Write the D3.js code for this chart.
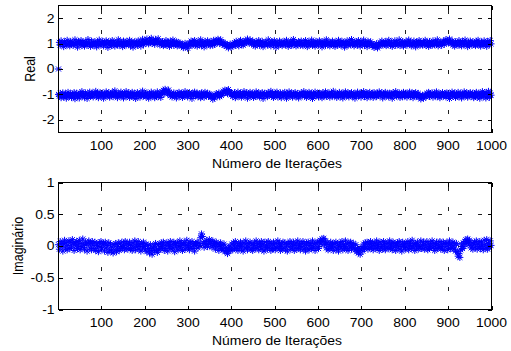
<!DOCTYPE html>
<html>
<head>
<meta charset="utf-8">
<script src="https://cdn.jsdelivr.net/npm/d3@7"></script>
<style>
  html, body { margin: 0; padding: 0; background: #fff; }
  svg { display: block; }
  text { font-family: Arial, "Liberation Sans", sans-serif; fill: #000; }
</style>
</head>
<body>
<script>
// ---------------- DATA ----------------
const iterations = d3.range(1, 1001, 2); // sampled iteration numbers (500 points)

const realUpper = [
  0, 1.05, .94, 1.11, .98, 1.02, .88, 1.07, 1.00, .95, 1.13, .97, 1.03, .91, 1.08, .99, 1.06, .93, 1.01, 1.15,
  .96, 1.04, .86, 1.09, 1.02, .97, 1.12, .92, 1.05, .99, .90, 1.07, 1.03, .95, 1.16, .98, 1.01, .89, 1.10, .96,
  1.04, .93, 1.08, 1.00, .87, 1.06, .97, 1.14, .94, 1.02, .99, 1.09, .91, 1.05, .96, 1.11, 1.01, .85, 1.07, .98,
  1.03, .92, 1.12, .97, 1.06, .90, 1.04, 1.00, .95, 1.15, .93, 1.08, .99, 1.02, .88, 1.10, .96, 1.05, .94, 1.09,
  1.01, .97, 1.13, .91, 1.06, .99, .86, 1.04, 1.08, .95, 1.02, .93, 1.11, .98, 1.07, .90, 1.03, 1.17, .96, 1.05,
  1.10, 1.03, 1.18, 1.07, .99, 1.14, 1.05, 1.21, 1.01, 1.12, 1.06, .97, 1.16, 1.09, 1.03, 1.19, 1.08, .95, 1.04, .99,
  1.08, .92, 1.03, .97, 1.12, .94, 1.06, 1.00, .89, 1.09, .96, 1.04, 1.14, .93, 1.01, .98, 1.07, .91, 1.05, .95,
  1.02, .97, .90, .96, .84, .93, 1.01, .88, .95, .82, .94, 1.03, .97, 1.10, .92, 1.06, .99, 1.12, .95, 1.01,
  .90, 1.07, 1.03, .96, 1.15, .93, 1.05, .99, .87, 1.09, 1.02, .95, 1.11, .98, 1.04, .92, 1.08, 1.00, .94, 1.13,
  .97, 1.03, 1.12, 1.05, 1.17, 1.08, 1.00, 1.15, 1.06, .98, 1.04, .93, 1.01, .96, .89, .95, .83, .92, .98, .87,
  .94, .90, .97, 1.04, .93, 1.09, .99, 1.02, .91, 1.07, 1.13, .96, 1.03, .94, 1.08, 1.00, 1.11, 1.05, 1.18, 1.07,
  1.02, 1.14, 1.06, .99, 1.10, .95, 1.04, .90, 1.07, .98, 1.01, 1.12, .93, 1.05, .97, 1.09, .88, 1.03, .96, 1.06,
  1.00, .94, 1.15, .97, 1.02, .91, 1.08, 1.04, .95, 1.11, .99, .86, 1.06, 1.01, .93, 1.10, .97, 1.03, .92, 1.07,
  .98, 1.05, .95, 1.13, 1.00, .89, 1.04, .96, 1.09, .93, 1.02, 1.16, .97, 1.06, .91, 1.01, .95, 1.08, 1.03, .94,
  1.10, .99, .92, 1.05, .97, 1.12, 1.01, .88, 1.07, .95, 1.03, .98, 1.14, .93, 1.06, 1.00, .90, 1.09, .96, 1.04,
  .94, 1.11, .99, 1.02, .87, 1.08, .97, 1.05, .93, 1.15, 1.01, .96, 1.07, .91, 1.03, .98, 1.10, .95, 1.04, .89,
  1.06, 1.00, .94, 1.13, .97, 1.03, .92, 1.09, .99, 1.05, .86, 1.02, .96, 1.11, .93, 1.07, 1.01, .95, 1.16, .98,
  1.03, .91, 1.08, .97, 1.04, .94, 1.12, 1.00, .90, 1.06, .96, 1.02, 1.14, .93, 1.05, .99, .88, 1.09, 1.01, .95,
  1.07, .98, .91, .96, .85, .94, .89, 1.00, .83, .93, .90, 1.04, .97, 1.10, .95, 1.02, .99, 1.08, .92, 1.05,
  .96, 1.13, 1.00, .94, 1.06, .89, 1.03, .98, 1.11, .93, 1.05, 1.01, .96, 1.15, .92, 1.04, .99, 1.08, .90, 1.02,
  .97, 1.09, .94, 1.03, 1.14, .98, 1.06, .91, 1.01, .95, 1.10, .99, .87, 1.05, 1.02, .96, 1.12, .93, 1.07, 1.00,
  .94, 1.04, .98, 1.13, .92, 1.06, 1.01, .89, 1.08, .96, 1.03, .93, 1.11, 1.00, .95, 1.07, .97, 1.15, .91, 1.04,
  .99, 1.06, .93, 1.02, 1.10, .97, 1.09, 1.16, 1.05, 1.12, 1.03, 1.18, 1.07, 1.00, 1.11, .95, 1.04, .90, 1.07, .98,
  1.03, .94, 1.12, .97, 1.05, .91, 1.08, 1.00, .95, 1.14, .99, 1.02, .88, 1.06, .96, 1.10, 1.01, .93, 1.07, .97,
  1.04, .92, 1.09, .98, 1.13, .95, 1.02, .90, 1.06, 1.00, .94, 1.11, .97, 1.05, .89, 1.08, 1.01, .96, 1.12, .99
];

const realLower = [
  -1.00, -1.07, -.96, -1.13, -1.02, -.94, -1.10, -1.04, -.98, -1.15, -1.01, -.92, -1.08, -1.05, -.97, -1.12, -.99, -1.06, -.93, -1.17,
  -1.03, -.95, -1.09, -1.00, -1.14, -.96, -1.04, -.89, -1.07, -.99, -1.11, -.94, -1.02, -1.16, -.97, -1.05, -.91, -1.08, -1.01, -.95,
  -1.10, -.98, -1.03, -.88, -1.06, -.96, -1.13, -1.00, -.93, -1.08, -1.02, -.95, -1.15, -.99, -1.04, -.90, -1.07, -1.01, -.94, -1.11,
  -.97, -1.05, -.92, -1.09, -1.00, -.86, -1.04, -.98, -1.13, -.95, -1.02, -1.07, -.91, -1.06, -.99, -1.14, -.96, -1.03, -.89, -1.08,
  -1.01, -.94, -1.12, -.98, -1.05, -.92, -1.09, -1.03, -.96, -1.16, -1.00, -.93, -1.07, -.99, -1.11, -.95, -1.04, -.87, -1.06, -1.02,
  -.97, -1.10, -.94, -1.03, -1.15, -.99, -1.06, -.91, -1.08, -1.01, -.96, -1.13, -.98, -1.04, -.90, -1.09, -1.02, -.95, -1.12, -1.00,
  -.90, -.84, -.95, -.80, -.91, -.87, -.98, -.83, -.93, -1.05, -.97, -1.10, -1.01, -.94, -1.07, -.99, -1.14, -.96, -1.03, -.92,
  -1.08, -1.00, -.95, -1.12, -.98, -1.05, -.89, -1.04, -.97, -1.10, -1.01, -.93, -1.07, -.99, -1.16, -.96, -1.02, -.91, -1.06, -1.00,
  -.95, -1.09, -1.03, -.97, -1.13, -.94, -1.05, -.99, -1.11, -.92, -1.04, -1.00, -.96, -1.08, -.98, -1.02, -1.10, -1.05, -1.19, -1.08,
  -1.14, -1.03, -.97, -1.07, -1.01, -.94, -1.09, -.98, -1.04, -.96, -.88, -.95, -.83, -.92, -.86, -.97, -.81, -.90, -.93, -1.02,
  -.96, -1.08, -1.00, -.93, -1.13, -.98, -1.05, -.91, -1.07, -1.02, -.95, -1.11, -.99, -1.04, -.89, -1.06, -1.01, -.94, -1.15, -.97,
  -1.03, -.92, -1.08, -1.00, -.96, -1.12, -.98, -1.05, -.90, -1.07, -1.02, -.94, -1.10, -.99, -1.04, -.93, -1.16, -1.01, -.95, -1.06,
  -.98, -1.09, -.93, -1.03, -1.00, -.88, -1.07, -.96, -1.12, -1.02, -.95, -1.05, -.91, -1.10, -.99, -1.04, -.94, -1.13, -1.01, -.97,
  -1.06, -.92, -1.03, -1.15, -.98, -1.04, -.90, -1.08, -1.00, -.95, -1.11, -.97, -1.02, -.93, -1.09, -1.05, -.96, -1.14, -.99, -1.03,
  -.94, -1.07, -1.01, -.89, -1.05, -.98, -1.12, -.96, -1.03, -.92, -1.08, -1.00, -.95, -1.16, -.99, -1.04, -.91, -1.06, -1.02, -.97,
  -1.10, -.95, -1.03, -.99, -1.13, -.93, -1.06, -1.01, -.90, -1.08, -.97, -1.04, -.94, -1.11, -1.00, -.96, -1.07, -.88, -1.05, -1.02,
  -.96, -1.12, -.99, -1.04, -.92, -1.09, -1.01, -.95, -1.14, -.98, -1.03, -.90, -1.07, -1.00, -.94, -1.10, -.97, -1.05, -.93, -1.08,
  -1.01, -.96, -1.15, -.99, -1.04, -.91, -1.06, -1.02, -.95, -1.11, -.98, -1.03, -.89, -1.08, -1.00, -.94, -1.13, -.97, -1.05, -.92,
  -1.07, -1.01, -.96, -1.12, -.93, -1.04, -.99, -1.09, -.95, -1.02, -.90, -1.06, -1.00, -.94, -1.14, -.98, -1.03, -.92, -1.08, -1.01,
  -.97, -1.10, -.95, -1.04, -.99, -1.15, -.93, -1.06, -1.01, -.89, -1.07, -.98, -1.03, -.94, -1.12, -1.00, -.96, -1.09, -.92, -1.05,
  -1.02, -.95, -1.11, -.99, -1.04, -.91, -1.08, -1.00, -.94, -1.13, -.97, -1.05, -.93, -1.07, -1.01, -.96, -1.12, -1.05, -1.18, -1.09,
  -1.03, -1.15, -1.07, -1.01, -1.10, -.96, -1.04, -.92, -1.08, -.99, -1.03, -.94, -1.11, -1.00, -.95, -1.06, -.90, -1.09, -1.02, -.97,
  -1.13, -.98, -1.04, -.93, -1.07, -1.01, -.96, -1.10, -.94, -1.05, -.99, -1.16, -.97, -1.03, -.91, -1.08, -1.00, -.95, -1.12, -.98,
  -1.04, -.92, -1.09, -1.01, -.96, -1.14, -.99, -1.05, -.90, -1.07, -1.02, -.94, -1.11, -.97, -1.03, -.93, -1.08, -1.00, -.95, -1.13,
  -.99, -1.06, -.92, -1.10, -1.02, -.96, -1.15, -.98, -1.04, -.89, -1.09, -1.01, -.93, -1.14, -.97, -1.07, -.88, -1.12, -.95, -1.03
];

const imagValues = [
  .02, -.05, .07, -.01, .04, -.08, .03, .09, -.03, .05, -.06, .01, .08, -.04, .06, -.02, .10, .03, -.07, .05,
  .00, .07, -.04, .03, .09, -.06, .04, -.02, .11, .01, -.05, .06, .02, -.08, .05, .08, -.03, .04, -.06, .07,
  .01, -.04, .06, -.07, .03, .00, -.09, .05, -.02, .07, -.05, .02, .04, -.08, .06, -.03, .01, -.10, .05, -.06,
  .03, -.08, -.02, -.11, .02, -.06, .04, -.09, -.01, .05, -.07, .03, -.04, .06, -.02, .01, -.06, .07, -.03, .04,
  -.05, .02, .06, -.04, .01, -.07, .05, -.02, .08, -.06, .03, -.01, .07, -.05, .02, -.08, .04, -.03, .06, -.01,
  -.06, .03, -.09, .01, -.04, -.11, .02, -.07, -.13, -.03, .00, -.08, .04, -.05, -.10, .02, -.06, .03, -.04, .05,
  -.02, .06, -.07, .01, -.04, .05, -.08, .03, -.01, .07, -.05, .02, -.03, .06, -.09, .04, -.02, .05, -.06, .01,
  .08, -.03, .04, -.07, .02, .06, -.05, .01, .09, -.02, .03, -.06, .05, -.01, .07, -.04, .02, -.08, .04, .00,
  .06, -.03, .05, .01, .13, .19, .15, .04, -.02, .07, .02, .09, -.01, .05, .10, .03, .07, -.02, .08, .01,
  .04, -.05, .06, -.01, .03, -.07, .02, .05, -.04, .01, -.06, .03, -.09, -.02, -.07, -.12, -.04, -.08, .00, -.05,
  .03, -.06, .05, -.02, .07, -.04, .01, -.07, .04, -.01, .06, -.05, .02, -.08, .05, -.03, .08, .00, -.06, .04,
  -.02, .06, -.05, .03, -.07, .01, .05, -.04, .08, -.02, .03, -.06, .04, -.01, .07, -.05, .02, -.08, .06, -.03,
  .01, -.05, .07, -.02, .04, -.07, .03, -.04, .06, .00, -.06, .05, -.03, .08, -.01, .04, -.07, .02, -.04, .06,
  -.03, .05, -.06, .02, -.08, .04, -.01, .07, -.05, .03, -.02, .06, -.07, .01, .05, -.04, .08, -.02, .03, -.06,
  .04, -.01, .07, -.05, .02, -.08, .05, -.03, .06, -.06, .01, .04, -.04, .08, -.02, .03, -.07, .05, -.01, .06,
  -.04, .06, .09, .03, .11, .07, .12, .02, .08, -.03, .05, -.06, .02, -.04, .06, -.01, .03, -.07, .04, -.02,
  .06, -.05, .03, -.08, .01, .05, -.03, .07, -.06, .02, -.01, .08, -.04, .03, -.07, .05, -.02, .06, -.05, .01,
  .04, -.03, -.06, .02, -.09, -.04, -.11, -.07, -.13, -.05, -.02, -.08, .03, -.04, .05, -.01, .06, -.05, .02, -.03,
  .07, -.02, .04, -.06, .01, .05, -.04, .08, -.01, .03, -.07, .06, -.03, .02, -.05, .07, .00, -.06, .04, -.02,
  .05, -.04, .08, -.01, .03, -.06, .06, -.02, .04, -.07, .01, .05, -.03, .07, -.05, .02, -.08, .06, -.01, .03,
  -.05, .04, -.02, .07, -.06, .01, .05, -.04, .09, -.01, .03, -.07, .04, -.02, .06, -.05, .02, -.03, .08, -.04,
  .01, .06, -.05, .03, -.02, .07, -.06, .02, -.04, .05, -.01, .08, -.03, .04, -.07, .01, .06, -.04, .03, -.02,
  .07, -.05, .02, -.03, .06, -.07, .04, -.01, .05, -.06, .02, .08, -.04, .03, -.02, .06, -.05, .01, -.08, .04,
  -.09, -.16, -.12, -.18, -.06, .02, -.04, .05, -.01, .07, .10, .04, .11, .06, .09, .01, -.03, .05, -.05, .03,
  .06, -.02, .08, -.05, .03, -.01, .07, -.04, .05, .00, -.06, .09, .02, -.03, .10, -.05, .04, -.02, .08, .01
];

const xTicks = [100, 200, 300, 400, 500, 600, 700, 800, 900, 1000];
const realTicks = [-2, -1, 0, 1, 2];
const imagTicks = [-1, -0.5, 0, 0.5, 1];
const xLabel = "Número de Iterações";
const realLabel = "Real";
const imagLabel = "Imaginário";

// ---------------- DRAW ----------------
const W = 511, H = 351;
const svg = d3.select("body").append("svg").attr("width", W).attr("height", H);
const SX = 1.16; // horizontal stretch of the text in the reference

const left = 58.5, right = 491.5;
const x = d3.scaleLinear().domain([1, 1000]).range([left, right]);

function starPath(r) {
  const d = r * 0.72;
  return `M${-r},0H${r}M0,${-r}V${r}M${-d},${-d}L${d},${d}M${-d},${d}L${d},${-d}`;
}

function panel(top, bottom, yDomain, yTicks, series, ylab, ylabX) {
  const y = d3.scaleLinear().domain(yDomain).range([bottom, top]);
  const g = svg.append("g");

  // grid
  const grid = g.append("g").attr("stroke", "#222").attr("stroke-width", 1)
    .attr("stroke-dasharray", "4,16").attr("shape-rendering", "crispEdges");
  xTicks.filter(t => t < 1000).forEach(t => {
    const px = Math.round(x(t)) + 0.5;
    grid.append("line").attr("x1", px).attr("x2", px).attr("y1", bottom).attr("y2", top)
      .attr("stroke-dashoffset", 1);
  });
  yTicks.filter(t => t > yDomain[0] && t < yDomain[1]).forEach(t => {
    const py = Math.round(y(t)) + 0.5;
    grid.append("line").attr("x1", left).attr("x2", right).attr("y1", py).attr("y2", py)
      .attr("stroke-dashoffset", 1);
  });

  // data markers
  series.forEach(vals => {
    const pts = vals.slice(0, iterations.length).map((v, i) => [iterations[i], v]);
    g.append("g").attr("stroke", "#0000ff").attr("stroke-width", 1).attr("fill", "none")
      .selectAll("path").data(pts).join("path")
      .attr("transform", p => `translate(${x(p[0])},${y(p[1])})`)
      .attr("d", starPath(3.5));
  });

  // box
  const ax = g.append("g").attr("stroke", "#000").attr("fill", "none").attr("shape-rendering", "crispEdges");
  ax.append("rect").attr("x", left).attr("y", top).attr("width", right - left).attr("height", bottom - top);
  // ticks (inward, all four sides)
  xTicks.forEach(t => {
    const px = Math.round(x(t)) + 0.5;
    ax.append("line").attr("x1", px).attr("x2", px).attr("y1", bottom).attr("y2", bottom - 4);
    ax.append("line").attr("x1", px).attr("x2", px).attr("y1", top).attr("y2", top + 4);
  });
  yTicks.forEach(t => {
    const py = Math.round(y(t)) + 0.5;
    ax.append("line").attr("x1", left).attr("x2", left + 4).attr("y1", py).attr("y2", py);
    ax.append("line").attr("x1", right).attr("x2", right - 4).attr("y1", py).attr("y2", py);
  });

  // tick labels
  xTicks.forEach(t => {
    g.append("text").attr("transform", `translate(${x(t)},${bottom + 17.5}) scale(${SX},1)`)
      .attr("text-anchor", "middle").attr("font-size", 12).text(t);
  });
  yTicks.forEach(t => {
    g.append("text").attr("transform", `translate(${left - 4},${y(t) + 4.3}) scale(${SX},1)`)
      .attr("text-anchor", "end").attr("font-size", 12).text(String(t));
  });
  // x label
  g.append("text").attr("transform", `translate(${(left + right) / 2 + 2},${bottom + 35}) scale(${SX},1)`)
    .attr("text-anchor", "middle").attr("font-size", 12).text(xLabel);
  // y label
  g.append("text").attr("transform", `translate(${ylabX},${(top + bottom) / 2}) rotate(-90) scale(1,${SX})`)
    .attr("text-anchor", "middle").attr("font-size", 12.5).text(ylab);
}

panel(5.5, 132.5, [-2.5, 2.5], realTicks, [realUpper, realLower], realLabel, 35);
panel(182.5, 309.5, [-1, 1], imagTicks, [imagValues], imagLabel, 23);
</script>
</body>
</html>
